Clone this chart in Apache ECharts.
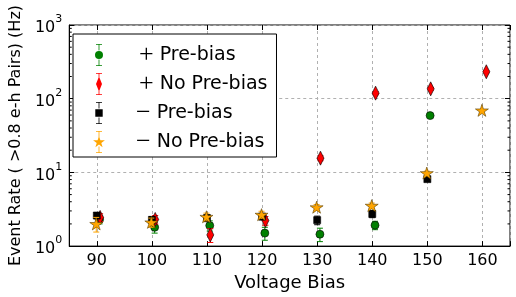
<!DOCTYPE html>
<html><head><meta charset="utf-8">
<script src="https://cdn.jsdelivr.net/npm/echarts@6/dist/echarts.min.js"></script>
<style>html,body{margin:0;padding:0;background:#fff}#c{width:516px;height:297px}</style>
</head><body><div id="c"></div>
<script>
// ---- data ----
const xTicks = [90, 100, 110, 120, 130, 140, 150, 160];
const yTicks = [1, 10, 100, 1000];
const yMinorTicks = [2,3,4,5,6,7,8,9,20,30,40,50,60,70,80,90,200,300,400,500,600,700,800,900];

const plusPreV   = [90.5, 100.5, 110.5, 120.5, 130.5, 140.5, 150.5];
const plusPreY   = [2.3, 1.8, 1.9, 1.5, 1.45, 1.92, 59];
const plusPreE   = [0.3, 0.3, 0.3, 0.3, 0.3, 0.25, 1.5];

const plusNoV    = [90.6, 100.6, 110.6, 120.6, 130.6, 140.6, 150.6, 160.7];
const plusNoY    = [2.45, 2.3, 1.42, 2.22, 15.6, 119, 136, 232];
const plusNoE    = [0.3, 0.3, 0.3, 0.3, 1.2, 6, 6, 8];

const minusPreV  = [90, 100, 110, 120, 130, 140, 150];
const minusPreY  = [2.6, 2.27, 2.4, 2.52, 2.25, 2.73, 8.1];
const minusPreE  = [0.25, 0.25, 0.25, 0.25, 0.3, 0.3, 0.6];

const minusNoV   = [89.9, 99.9, 109.9, 119.9, 129.9, 139.9, 149.9, 159.9];
const minusNoY   = [2.0, 2.1, 2.5, 2.67, 3.37, 3.54, 9.8, 69.5];
const minusNoE   = [0.45, 0.3, 0.3, 0.3, 0.3, 0.3, 0.6, 2];

const names = ['+ Pre-bias', '+ No Pre-bias', '− Pre-bias', '− No Pre-bias'];
const X_MIN = 85, X_MAX = 165;

// ---- build ----
const zip = (a, b, c) => a.map((v, i) => c ? [v, b[i], c[i]] : [v, b[i]]);
const STAR = 'path://M50,0 L61,35 L98,35 L68,57 L79,91 L50,70 L21,91 L32,57 L2,35 L39,35 Z';

function errRender(color) {
  return function (params, api) {
    const x = api.value(0), v = api.value(1), e = api.value(2);
    const t = api.coord([x, v + e]), b = api.coord([x, v - e]);
    const cw = 3;
    const st = {stroke: color, lineWidth: 1};
    return {type: 'group', children: [
      {type: 'line', shape: {x1: t[0], y1: t[1], x2: b[0], y2: b[1]}, style: st},
      {type: 'line', shape: {x1: t[0] - cw, y1: t[1], x2: t[0] + cw, y2: t[1]}, style: st},
      {type: 'line', shape: {x1: b[0] - cw, y1: b[1], x2: b[0] + cw, y2: b[1]}, style: st}
    ]};
  };
}

// legend icons: error bar + marker, with tiny anchor points forcing a 32x22 box
const anchors = 'M0,11 L0.01,11 L0,11.01 Z M32,11 L31.99,11 L32,11.01 Z ';
const barPart = 'M13,0 L19,0 L19,0.8 L13,0.8 Z M15.6,0.8 L16.4,0.8 L16.4,6.5 L15.6,6.5 Z ' +
                'M15.6,15.5 L16.4,15.5 L16.4,21.2 L15.6,21.2 Z M13,21.2 L19,21.2 L19,22 L13,22 Z ';
const icons = [
  'path://' + anchors + barPart + 'M12,11 A4,4 0 1,1 20,11 A4,4 0 1,1 12,11 Z',
  'path://' + anchors + barPart + 'M16,3.5 L19,11 L16,18.5 L13,11 Z',
  'path://' + anchors + barPart + 'M12.3,7.3 L19.7,7.3 L19.7,14.7 L12.3,14.7 Z',
  'path://' + anchors + barPart + 'M16,5 L17.4,9.3 L21.9,9.3 L18.3,12 L19.6,16.3 L16,13.6 L12.4,16.3 L13.7,12 L10.1,9.3 L14.6,9.3 Z'
];

const colors = ['#008000', '#ff0000', '#000000', '#ffa500'];
const groups = [
  {v: plusPreV, y: plusPreY, e: plusPreE, sym: 'circle', size: 8},
  {v: plusNoV, y: plusNoY, e: plusNoE, sym: 'diamond', size: [7, 14]},
  {v: minusPreV, y: minusPreY, e: minusPreE, sym: 'rect', size: 7},
  {v: minusNoV, y: minusNoY, e: minusNoE, sym: STAR, size: [13, 12]}
];

const series = [];
groups.forEach((g, i) => {
  series.push({
    type: 'custom', name: names[i], xAxisIndex: 0, yAxisIndex: 0,
    renderItem: errRender(colors[i]), encode: {x: 0, y: 1},
    data: zip(g.v, g.y, g.e), itemStyle: {color: colors[i]}, z: 2 + i * 2, silent: true
  });
  series.push({
    type: 'scatter', name: names[i], xAxisIndex: 0, yAxisIndex: 0,
    symbol: g.sym, symbolSize: g.size,
    itemStyle: {color: colors[i], borderColor: i === 3 ? '#5a4000' : '#000', borderWidth: 0.6, opacity: 1},
    data: zip(g.v, g.y), z: 3 + i * 2
  });
});
// minor log ticks on left and right frame
series.push({
  type: 'custom', xAxisIndex: 0, yAxisIndex: 0, silent: true, z: 20,
  encode: {x: 0, y: 1},
  data: yMinorTicks.map(v => [X_MIN, v]),
  renderItem: function (params, api) {
    const cs = params.coordSys;
    const y = api.coord([X_MIN, api.value(1)])[1];
    const st = {stroke: '#000', lineWidth: 1};
    return {type: 'group', children: [
      {type: 'line', shape: {x1: cs.x, y1: y, x2: cs.x + 2.5, y2: y}, style: st},
      {type: 'line', shape: {x1: cs.x + cs.width - 2.5, y1: y, x2: cs.x + cs.width, y2: y}, style: st}
    ]};
  }
});

const FONT = 'DejaVu Sans';
const legendFmt = function (name) {
  const sign = name[0];
  const rest = name.slice(2);
  return sign === '+' ? '{pl|+}{tp|' + rest + '}' : '{mi|−}{tm|' + rest + '}';
};

const option = {
  animation: false,
  backgroundColor: '#fff',
  textStyle: {fontFamily: FONT},
  grid: {left: 64, right: 6, top: 25, bottom: 49, show: true, borderColor: '#000', borderWidth: 1},
  legend: {
    orient: 'vertical', left: 73, top: 34, align: 'left',
    data: names.map((n, i) => ({name: n, icon: icons[i]})),
    itemWidth: 32, itemHeight: 22, itemGap: 3,
    padding: [8, 9, 2, 10],
    borderColor: '#000', borderWidth: 1, backgroundColor: '#fff',
    selectedMode: false,
    formatter: legendFmt,
    textStyle: {
      fontFamily: FONT, fontSize: 19, color: '#000', lineHeight: 22,
      rich: {
        pl: {fontFamily: 'Liberation Serif', fontSize: 26, color: '#000', lineHeight: 22, padding: [0, 0, 0, 19]},
        mi: {fontFamily: 'Liberation Serif', fontSize: 26, color: '#000', lineHeight: 22, padding: [0, 0, 0, 16]},
        tp: {fontFamily: FONT, fontSize: 19, color: '#000', padding: [0, 0, 0, 6], lineHeight: 22},
        tm: {fontFamily: FONT, fontSize: 19, color: '#000', padding: [0, 0, 0, 6], lineHeight: 22}
      }
    }
  },
  xAxis: [{
    type: 'value', min: X_MIN, max: X_MAX, splitNumber: 8,
    name: 'Voltage Bias', nameLocation: 'middle', nameGap: 25,
    nameTextStyle: {fontFamily: FONT, fontSize: 18, color: '#000'},
    axisLine: {show: true, lineStyle: {color: '#000'}},
    axisTick: {show: true, inside: true, length: 5, lineStyle: {color: '#000'}},
    axisLabel: {
      fontFamily: FONT, fontSize: 16, color: '#000', margin: 7,
      formatter: v => (xTicks.indexOf(v) >= 0 ? String(v) : '')
    },
    splitLine: {show: true, lineStyle: {color: '#b0b0b0', type: [3, 3], width: 1}}
  }, {
    type: 'value', min: X_MIN, max: X_MAX, splitNumber: 8, position: 'top',
    axisLine: {show: false},
    axisTick: {show: true, inside: true, length: 5, lineStyle: {color: '#000'}},
    axisLabel: {show: false}, splitLine: {show: false}
  }],
  yAxis: [{
    type: 'log', logBase: 10, min: yTicks[0], max: yTicks[yTicks.length - 1],
    name: 'Event Rate ( >0.8 e-h Pairs) (Hz)', nameLocation: 'middle', nameGap: 42,
    nameTextStyle: {fontFamily: FONT, fontSize: 16, color: '#000'},
    axisLine: {show: true, lineStyle: {color: '#000'}},
    axisTick: {show: true, inside: true, length: 5, lineStyle: {color: '#000'}},
    axisLabel: {
      margin: 7, color: '#000',
      formatter: v => '{b|10}{s|' + Math.round(Math.log10(v)) + '}',
      rich: {
        b: {fontFamily: FONT, fontSize: 16, color: '#000', verticalAlign: 'bottom', lineHeight: 22},
        s: {fontFamily: FONT, fontSize: 11, color: '#000', verticalAlign: 'top', lineHeight: 22}
      }
    },
    splitLine: {show: true, lineStyle: {color: '#b0b0b0', type: [3, 3], width: 1}}
  }, {
    type: 'log', logBase: 10, min: yTicks[0], max: yTicks[yTicks.length - 1], position: 'right',
    axisLine: {show: false},
    axisTick: {show: true, inside: true, length: 5, lineStyle: {color: '#000'}},
    axisLabel: {show: false}, splitLine: {show: false}
  }],
  series: series
};

const chart = echarts.init(document.getElementById('c'), null, {renderer: 'canvas'});
chart.setOption(option);
</script>
</body></html>
